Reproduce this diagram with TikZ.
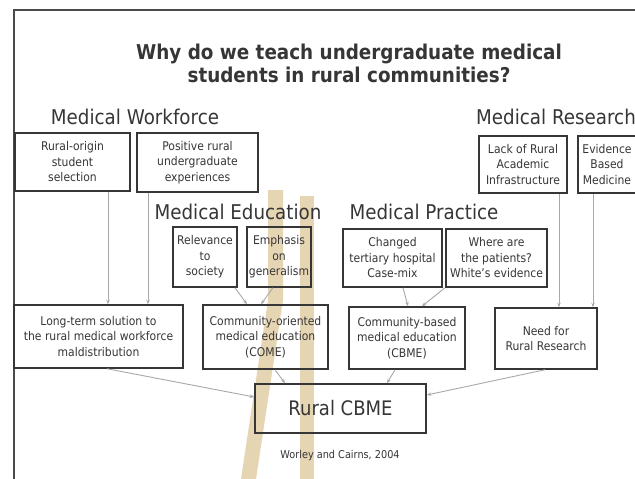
\documentclass[tikz,border=0pt]{standalone}
\usepackage{fontspec}
\setmainfont{DejaVu Sans}[FakeStretch=0.9]
\usetikzlibrary{arrows.meta}
\definecolor{inkc}{HTML}{363636}
\definecolor{framec}{HTML}{4A4A4A}
\definecolor{connc}{HTML}{A8A8A8}
\definecolor{goldc}{HTML}{E6D5B3}
\tikzset{
  box/.style={draw=inkc, line width=1.5pt, align=center, inner sep=0pt, text=inkc,
    font=\fontsize{12}{15.5}\selectfont},
  heading/.style={text=inkc, inner sep=0pt, font=\fontsize{20.3}{24}\selectfont},
  conn/.style={draw=connc, line width=0.9pt, -{Stealth[length=4.5pt,width=3.5pt]}},
}
\begin{document}
\begin{tikzpicture}[x=1pt,y=-1pt]
\useasboundingbox (0,0) rectangle (635,479);
\fill[white] (0,0) rectangle (635,479);
% watermark
\fill[goldc] (268,190) -- (283,190) -- (283,300) -- (256,479) -- (241,479) -- (268,300) -- cycle;
\fill[goldc] (300,196) -- (314,196) -- (314,479) -- (300,479) -- cycle;
% frame
\draw[framec, line width=2pt] (14,479) -- (14,10) -- (636,10);
% title
\node[text=inkc, align=center, inner sep=0pt, font=\bfseries\fontsize{20.4}{23}\selectfont] (title) at (349,63)
  {Why do we teach undergraduate medical\\students in rural communities?};
% headings
\node[heading] (hwf) at (135,117) {Medical Workforce};
\node[heading] (hres) at (556,117) {Medical Research};
\node[heading] (hedu) at (238,212) {Medical Education};
\node[heading] (hpra) at (424,212) {Medical Practice};
% top boxes
\node[box, minimum width=115pt, minimum height=58pt] (ro) at (72.5,162) {Rural-origin\\student\\selection};
\node[box, minimum width=121pt, minimum height=59pt] (pos) at (197.5,162.5) {Positive rural\\undergraduate\\experiences};
\node[box, minimum width=88pt, minimum height=57pt] (lack) at (523,164.5) {Lack of Rural\\Academic\\Infrastructure};
\node[box, minimum width=58pt, minimum height=57pt] (ebm) at (607,164.5) {Evidence\\Based\\Medicine};
\node[box, minimum width=64pt, minimum height=60pt] (rel) at (205,257) {Relevance\\to\\society};
\node[box, minimum width=64pt, minimum height=60pt] (emp) at (279,257) {Emphasis\\on\\generalism};
\node[box, minimum width=99pt, minimum height=58pt] (chg) at (392.5,258) {Changed\\tertiary hospital\\Case-mix};
\node[box, minimum width=101pt, minimum height=58pt] (whr) at (496.5,258) {Where are\\the patients?\\White's evidence};
% bottom row
\node[box, minimum width=169pt, minimum height=63pt] (lt) at (98.5,336.5) {Long-term solution to\\the rural medical workforce\\maldistribution};
\node[box, minimum width=125pt, minimum height=64pt] (come) at (265.5,337) {Community-oriented\\medical education\\(COME)};
\node[box, minimum width=116pt, minimum height=62pt] (cbme) at (407,338) {Community-based\\medical education\\(CBME)};
\node[box, minimum width=102pt, minimum height=61pt] (need) at (546,338.5) {Need for\\Rural Research};
\node[box, minimum width=171pt, minimum height=49pt, font=\fontsize{20}{24}\selectfont] (rural) at (340.5,408.5) {Rural CBME};
\node[text=inkc, inner sep=0pt, font=\fontsize{10.8}{13}\selectfont] (cite) at (340,456) {Worley and Cairns, 2004};
% connectors
\draw[conn] ([xshift=35.5pt]ro.south) -- ([xshift=35.5pt]ro.south |- lt.north);
\draw[conn] ([xshift=-49.5pt]pos.south) -- ([xshift=-49.5pt]pos.south |- lt.north);
\draw[conn] ([xshift=36pt]lack.south) -- ([xshift=36pt]lack.south |- need.north);
\draw[conn] ([xshift=-14pt]ebm.south) -- ([xshift=-14pt]ebm.south |- need.north);
\draw[conn] ([xshift=30pt]rel.south) -- ([xshift=-18.5pt]come.north);
\draw[conn] ([xshift=-6pt]emp.south) -- ([xshift=-4.5pt]come.north);
\draw[conn] ([xshift=10.5pt]chg.south) -- ([xshift=1pt]cbme.north);
\draw[conn] ([xshift=-51.5pt]whr.south) -- ([xshift=15pt]cbme.north);
\draw[conn] ([xshift=8.5pt]lt.south) -- ([yshift=11.5pt]rural.west);
\draw[conn] ([xshift=9.5pt]come.south) -- ([xshift=-55.5pt]rural.north);
\draw[conn] ([xshift=-12pt]cbme.south) -- ([xshift=46.5pt]rural.north);
\draw[conn] ([xshift=-1pt]need.south) -- ([yshift=13.5pt]rural.east);
\end{tikzpicture}
\end{document}
